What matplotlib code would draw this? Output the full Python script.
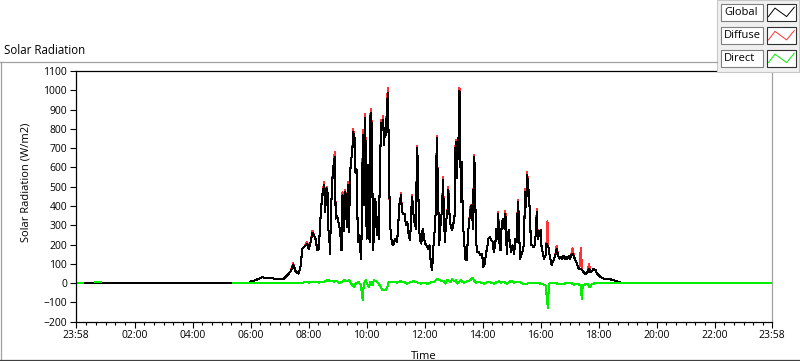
import numpy as np
import matplotlib
matplotlib.use("Agg")
import matplotlib.pyplot as plt
from matplotlib.patches import Rectangle
from matplotlib.lines import Line2D

plt.rcParams['font.family'] = ['Open Sans', 'DejaVu Sans']

# time in minutes from midnight (-2 = 23:58 of the previous day)
times = [
    -2, 356, 360, 370, 384, 391, 401, 415, 429, 436, 443, 448,
    453, 459, 463, 467, 472, 477, 480, 484, 488, 491, 494, 498,
    501, 505, 508, 512, 514, 517, 519, 521, 523, 524, 527, 529,
    531, 534, 536, 539, 543, 545, 548, 550, 553, 556, 559, 561,
    563, 567, 570, 572, 575, 577, 579, 582, 585, 588, 590, 592,
    594, 597, 600, 603, 606, 607, 609, 611, 613, 615, 618, 621,
    623, 625, 628, 630, 632, 634, 636, 638, 640, 642, 644, 646,
    648, 651, 654, 656, 659, 662, 665, 667, 669, 671, 673, 676,
    679, 681, 684, 687, 690, 692, 694, 697, 699, 702, 704, 706,
    708, 710, 713, 716, 719, 721, 724, 727, 730, 732, 735, 737,
    738, 741, 743, 745, 748, 750, 753, 756, 758, 760, 762, 764,
    767, 769, 771, 774, 777, 779, 782, 784, 786, 788, 790, 792,
    793, 795, 797, 799, 801, 804, 807, 810, 812, 815, 817, 820,
    822, 824, 826, 829, 832, 836, 839, 841, 844, 847, 850, 852,
    855, 858, 861, 863, 866, 868, 870, 872, 875, 877, 879, 881,
    883, 885, 887, 890, 892, 894, 896, 899, 902, 905, 908, 910,
    913, 915, 917, 920, 923, 925, 928, 930, 932, 934, 936, 938,
    940, 943, 945, 948, 950, 952, 954, 957, 960, 962, 964, 967,
    970, 972, 974, 976, 978, 981, 983, 985, 988, 991, 993, 996,
    999, 1001, 1004, 1007, 1010, 1012, 1015, 1018, 1021, 1023, 1026, 1029,
    1032, 1035, 1037, 1040, 1043, 1046, 1050, 1053, 1057, 1060, 1063, 1067,
    1070, 1074, 1077, 1081, 1084, 1088, 1091, 1098, 1105, 1112, 1119, 1126,
    1132, 1438,
]

global_rad = [
    0, 0, 8, 15, 31, 26, 27, 20, 24, 41, 62, 97,
    62, 49, 83, 179, 192, 205, 175, 213, 262, 248, 231, 170,
    180, 361, 456, 508, 370, 491, 470, 274, 220, 153, 421, 534,
    600, 655, 335, 350, 300, 270, 170, 456, 270, 473, 290, 508,
    265, 638, 664, 785, 750, 569, 590, 213, 250, 127, 280, 768,
    404, 855, 231, 612, 213, 855, 881, 785, 170, 248, 439, 248,
    343, 231, 655, 829, 803, 846, 716, 803, 768, 924, 985, 638,
    317, 231, 196, 205, 231, 213, 265, 404, 421, 456, 369, 360,
    360, 300, 317, 248, 222, 360, 447, 352, 317, 282, 699, 629,
    308, 231, 205, 282, 231, 205, 196, 179, 196, 127, 66, 127,
    187, 283, 378, 751, 439, 196, 308, 387, 534, 335, 213, 317,
    360, 482, 369, 291, 274, 300, 352, 733, 543, 647, 751, 997,
    863, 421, 629, 308, 248, 127, 118, 265, 317, 387, 404, 282,
    655, 595, 222, 161, 161, 144, 153, 83, 101, 153, 196, 231,
    239, 222, 213, 161, 196, 282, 231, 360, 196, 170, 282, 326,
    335, 282, 360, 153, 248, 274, 213, 161, 196, 153, 231, 213,
    421, 335, 127, 144, 170, 196, 473, 396, 560, 508, 456, 335,
    196, 196, 187, 196, 265, 369, 231, 257, 274, 179, 161, 127,
    144, 205, 196, 187, 153, 118, 92, 110, 127, 153, 179, 144,
    127, 136, 127, 141, 127, 136, 127, 141, 127, 144, 153, 136,
    118, 101, 83, 75, 75, 66, 52, 48, 57, 75, 57, 66,
    75, 66, 48, 40, 31, 26, 22, 22, 19, 15, 8, 3,
    0, 0,
]

diffuse_rad = [
    0, 0, 8, 15, 31, 26, 27, 20, 24, 41, 62, 102,
    62, 49, 83, 179, 192, 215, 175, 213, 272, 248, 231, 170,
    180, 361, 456, 523, 370, 501, 470, 274, 220, 153, 421, 544,
    600, 680, 335, 350, 300, 270, 170, 471, 270, 483, 290, 523,
    265, 638, 664, 800, 750, 569, 590, 213, 250, 127, 280, 793,
    404, 875, 231, 612, 213, 855, 901, 785, 170, 248, 439, 248,
    343, 231, 655, 844, 803, 866, 716, 803, 768, 944, 1010, 638,
    317, 231, 196, 205, 231, 213, 265, 404, 421, 466, 369, 360,
    360, 300, 317, 248, 222, 360, 457, 352, 317, 282, 709, 629,
    308, 231, 205, 282, 231, 205, 196, 179, 196, 127, 66, 127,
    187, 283, 378, 761, 439, 196, 308, 387, 549, 335, 213, 317,
    360, 497, 369, 291, 274, 300, 352, 743, 543, 647, 751, 1012,
    893, 421, 629, 308, 248, 127, 118, 265, 317, 402, 404, 282,
    665, 595, 222, 161, 161, 144, 153, 83, 101, 153, 196, 231,
    239, 222, 213, 161, 196, 282, 231, 370, 196, 170, 282, 326,
    335, 282, 375, 153, 248, 274, 213, 161, 196, 153, 231, 213,
    431, 335, 127, 144, 170, 196, 488, 396, 575, 508, 456, 335,
    196, 196, 187, 196, 265, 384, 231, 257, 274, 179, 161, 127,
    144, 205, 320, 187, 153, 118, 92, 110, 127, 153, 194, 144,
    127, 136, 127, 141, 127, 136, 127, 141, 127, 144, 180, 136,
    118, 101, 83, 75, 180, 66, 52, 48, 57, 97, 57, 66,
    75, 66, 48, 40, 31, 26, 22, 22, 19, 15, 8, 3,
    0, 0,
]

nan = np.nan
direct_times = [
    -2, 14, nan, 37, 50, nan,
    323, 467, 470, 481, 491, 501, 512, 519, 526, 532,
    539, 543, 550, 553, 560, 563, 570, 574, 577, 583,
    588, 592, 594, 598, 601, 605, 608, 612, 615, 622,
    625, 629, 632, 639, 643, 644, 650, 664, 670, 677,
    684, 691, 698, 705, 712, 719, 726, 732, 739, 746,
    750, 760, 763, 767, 774, 777, 781, 784, 788, 795,
    798, 801, 808, 815, 819, 822, 826, 829, 836, 843,
    850, 857, 863, 870, 874, 877, 884, 891, 898, 905,
    912, 919, 925, 932, 939, 953, 960, 970, 975, 977,
    988, 995, 1008, 1022, 1029, 1036, 1043, 1045, 1047, 1057,
    1061, 1067, 1077, 1132, 1438,
]
direct_rad = [
    3, 3, nan, 4, 4, nan,
    0, 0, 5, 3, 6, 3, 8, 15, 12, 8,
    10, 0, 8, 15, 10, 15, -8, -20, -3, 6,
    -11, -89, -3, 15, -3, -20, 6, -11, 15, 6,
    -3, -20, -34, -37, -20, 3, 6, 3, 10, 6,
    -3, 6, 10, 3, -3, 3, -3, 3, 6, 23,
    15, 10, -3, 15, 6, 20, 10, 15, -3, 15,
    6, 3, 10, 15, 27, 15, 3, 6, 3, -3,
    6, 3, -3, 6, 10, 3, 6, -3, 12, 3,
    6, 3, -6, -3, 3, 3, -3, -11, -129, -3,
    3, -3, -3, 3, -8, -3, -11, -80, -11, -3,
    -20, -3, 0, 2, 2,
]

tick_pos = [-2, 120, 240, 360, 480, 600, 720, 840, 960, 1080, 1200, 1320, 1438]
tick_labels = ["23:58", "02:00", "04:00", "06:00", "08:00", "10:00", "12:00",
               "14:00", "16:00", "18:00", "20:00", "22:00", "23:58"]
series_names = ["Global", "Diffuse", "Direct"]
series_colors = ["#000000", "#ff3333", "#00ee00"]

W, H = 800, 361
fig = plt.figure(figsize=(W / 100, H / 100), dpi=100)
fig.patch.set_facecolor("white")

def fx(x):
    return x / W

def fy(y):
    return 1 - y / H

ax = fig.add_axes([fx(75.7), fy(321.7), (771.7 - 75.7) / W, (321.7 - 71) / H])

# LabVIEW style: thin, aliased traces
ax.plot(times, diffuse_rad, color=series_colors[1], lw=0.75, antialiased=False)
ax.plot(times, global_rad, color=series_colors[0], lw=0.75, antialiased=False)
ax.plot(direct_times, direct_rad, color=series_colors[2], lw=0.75, antialiased=False)

ax.set_xlim(-2, 1438)
ax.set_ylim(-200, 1100)
ax.set_yticks(np.arange(-200, 1101, 100))
ax.set_xticks(tick_pos)
ax.set_xticklabels(tick_labels)
ax.set_xticks(np.arange(20, 1438, 20), minor=True)
ax.tick_params(axis='both', which='major', labelsize=7.5, direction='out', length=4, width=0.8, pad=2)
ax.tick_params(axis='x', which='minor', direction='out', length=2.3, width=0.8)
ax.tick_params(axis='y', which='major', length=4.3)

for side in ['top', 'left', 'bottom']:
    ax.spines[side].set_color('black')
    ax.spines[side].set_linewidth(0.9)
ax.spines['right'].set_color('#a0a0a0')
ax.spines['right'].set_linewidth(0.9)

ax.set_ylabel("Solar Radiation (W/m2)", fontsize=8)
ax.yaxis.set_label_coords(-0.063, 0.555)
ax.set_xlabel("Time", fontsize=8)
ax.xaxis.set_label_coords(0.5, -0.115)

# outer panel and caption
fig.text(fx(4), fy(50), "Solar Radiation", fontsize=8.3, va='center', ha='left')
fig.add_artist(Line2D([fx(0), fx(717)], [fy(61.5), fy(61.5)], color='#a0a0a0', lw=0.9))
fig.add_artist(Line2D([fx(0.5), fx(0.5)], [fy(61.5), fy(359.5)], color='#a0a0a0', lw=0.9))
fig.add_artist(Line2D([fx(0), fx(800)], [fy(359.5), fy(359.5)], color='#404040', lw=0.9))

# legend panel
fig.add_artist(Rectangle((fx(717.3), fy(71.7)), (799 - 717.3) / W, 71.7 / H,
                         transform=fig.transFigure, facecolor='#f0f0f0', edgecolor='#c8c8c8', lw=0.8))
row_tops = [4, 27.3, 50]
zig_x = [0.04, 0.27, 0.68, 0.95]
zig_y = [0.26, 0.76, 0.26, 0.81]
for name, color, top in zip(series_names, series_colors, row_tops):
    bh = 17
    fig.add_artist(Rectangle((fx(721), fy(top + bh)), 41.7 / W, bh / H,
                             transform=fig.transFigure, facecolor='white', edgecolor='#808080', lw=0.8))
    fig.text(fx(724), fy(top + bh / 2), name, fontsize=8, va='center', ha='left')
    sx0, sw = 767.3, 28.4
    fig.add_artist(Rectangle((fx(sx0), fy(top + bh)), sw / W, bh / H,
                             transform=fig.transFigure, facecolor='white', edgecolor='#303030', lw=0.8))
    fig.add_artist(Line2D([fx(sx0 + sw * v) for v in zig_x],
                          [fy(top + bh - bh * v) for v in zig_y], color=color, lw=0.7))

fig.savefig("out.png", dpi=100)
